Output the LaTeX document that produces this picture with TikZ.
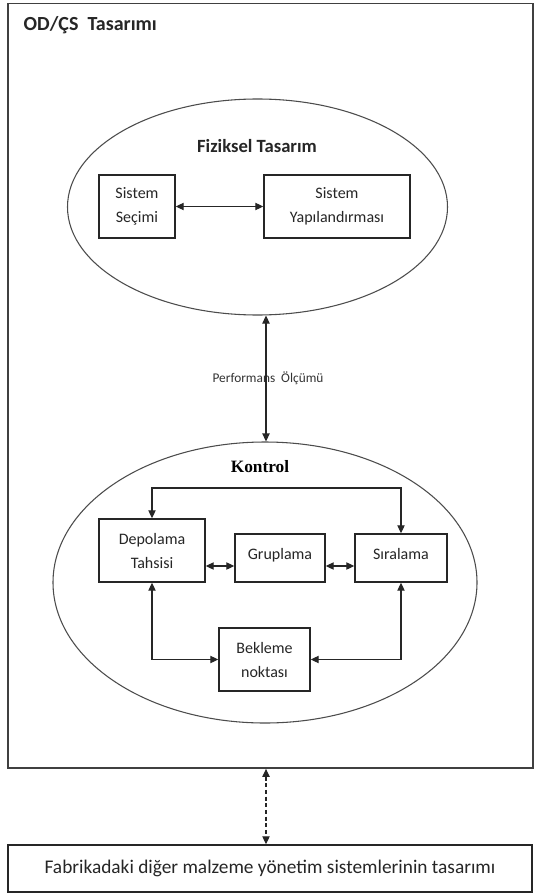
\documentclass[tikz,border=0pt]{standalone}
\usepackage{fontspec}
\setmainfont{Carlito}
\newfontfamily\tnr{Liberation Serif}
\usetikzlibrary{shapes.geometric,arrows.meta}
\tikzset{
  box/.style={draw=black!85, line width=1.1pt, inner sep=0pt, align=center, font=\fontsize{12}{18}\selectfont, text=black!85},
  oval/.style={draw=black!70, line width=0.8pt, ellipse, inner sep=0pt},
  link/.style={draw=black!85, line width=0.8pt, {Triangle[length=6pt,width=5.5pt]}-{Triangle[length=6pt,width=5.5pt]}},
  frame/.style={draw=black!75, line width=1.3pt, inner sep=0pt}
}
\begin{document}
\begin{tikzpicture}[x=0.75pt,y=-0.75pt]
\useasboundingbox (0,0) rectangle (534,895);
\clip (0,0) rectangle (534,895);
\fill[white] (0,0) rectangle (534,895);
% outer frame
\node[frame, minimum width=393.75pt, minimum height=573.4pt] (od) at (270.5,385.75) {};
\node[anchor=west, font=\bfseries\fontsize{15}{17}\selectfont, text=black!85] (odt) at (19,25.5) {OD/ÇS\ \ Tasarımı};
% top ellipse
\node[oval, minimum width=285pt, minimum height=162pt] (fe) at (257.5,207) {};
\node[font=\bfseries\fontsize{14}{16}\selectfont, text=black!85] (fet) at (257,146) {Fiziksel Tasarım};
\node[box, minimum width=57pt, minimum height=47.25pt] (ss) at (137,206.5) {Sistem\\Seçimi};
\node[box, minimum width=109.5pt, minimum height=47.25pt] (sy) at (337,206.5) {Sistem\\Yapılandırması};
\draw[link] (ss.east) -- (sy.west);
% performance
\coordinate (perf) at (266,378);
\node[font=\fontsize{10}{12}\selectfont, text=black!80] (perft) at (268,378) {Performans\ \ Ölçümü};
% bottom ellipse
\node[oval, minimum width=318pt, minimum height=210.75pt] (ke) at (265,582.5) {};
\node[font=\tnr\bfseries\fontsize{13}{16}\selectfont] (ket) at (260,467) {Kontrol};
\draw[link] (fe.south -| perf) -- (ke.north -| perf);
\node[box, minimum width=79.5pt, minimum height=47.25pt] (dt) at (152,550.5) {Depolama\\Tahsisi};
\node[box, minimum width=67.5pt, minimum height=36pt] (gr) at (280,558) {Gruplama\\[-12pt]};
\node[box, minimum width=69pt, minimum height=36pt] (sr) at (401,558) {Sıralama\\[-12pt]};
\node[box, minimum width=68.25pt, minimum height=47.25pt] (bk) at (264.5,659.5) {Bekleme\\noktası};
\coordinate (fb) at (0,488);
\coordinate (mid) at (0,566);
\draw[link] (dt.north) -- (dt.north |- fb) -- (sr.north |- fb) -- (sr.north);
\draw[link] (dt.east |- mid) -- (gr.west |- mid);
\draw[link] (gr.east |- mid) -- (sr.west |- mid);
\draw[link] (dt.south) |- (bk.west);
\draw[link] (sr.south) |- (bk.east);
% bottom box
\node[box, font=\fontsize{14.5}{16}\selectfont, minimum width=393pt, minimum height=35.25pt] (bb) at (270,868.5) {Fabrikadaki diğer malzeme yönetim sistemlerinin tasarımı};
\coordinate (dv) at (266,800);
\draw[link, dash pattern=on 3pt off 2pt] (od.south -| dv) -- (bb.north -| dv);
\end{tikzpicture}
\end{document}
